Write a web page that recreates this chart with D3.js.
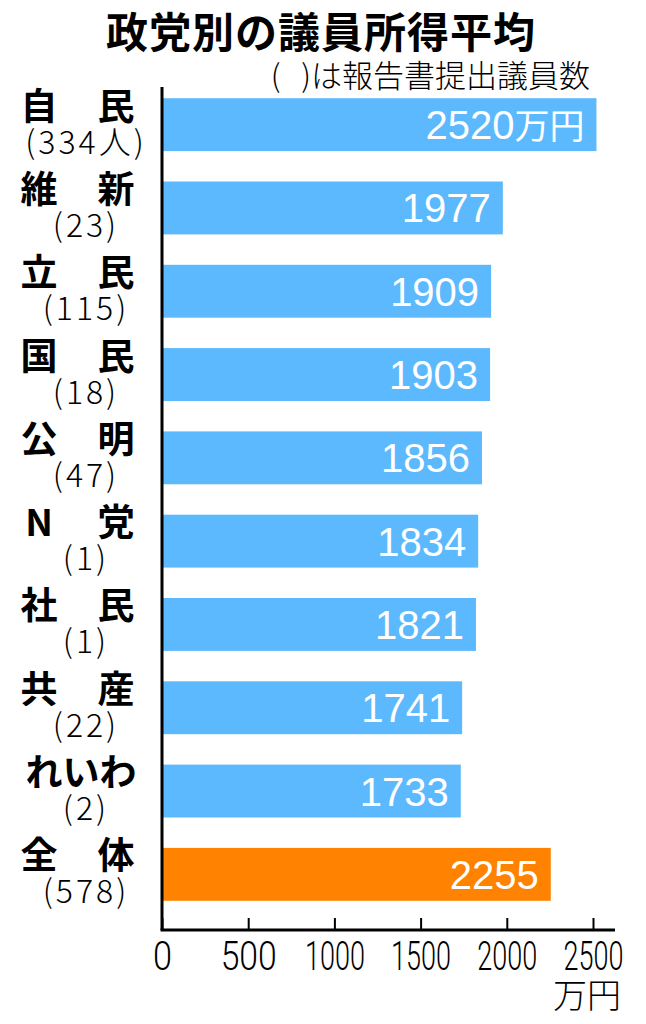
<!DOCTYPE html>
<html>
<head>
<meta charset="utf-8">
<style>
  body { margin: 0; background: #fff; }
  svg { display: block; }
</style>
</head>
<body>
<div id="chart"></div>
<script src="https://d3js.org/d3.v7.min.js"></script>
<script>
// 政党別の議員所得平均（万円）
const parties = ["自民", "維新", "立民", "国民", "公明", "N党", "社民", "共産", "れいわ", "全体"];
const members = ["334人", "23", "115", "18", "47", "1", "1", "22", "2", "578"];
const income = [2520, 1977, 1909, 1903, 1856, 1834, 1821, 1741, 1733, 2255];
const xTicks = [0, 500, 1000, 1500, 2000, 2500];

const width = 646, height = 1024;
const jpFont = "'Noto Sans CJK JP', 'Noto Sans', sans-serif";

const svg = d3.select("#chart").append("svg")
    .attr("width", width)
    .attr("height", height);

const x = d3.scaleLinear().domain([0, 2500]).range([162, 593]);
const y = d3.scaleBand().domain(parties).range([83, 916])
    .paddingInner(0.365).paddingOuter(0.1825);

// タイトル
svg.append("text")
    .attr("x", 321).attr("y", 48)
    .attr("text-anchor", "middle")
    .style("font-family", jpFont)
    .style("font-weight", 700)
    .style("font-size", "42px")
    .style("letter-spacing", "1px")
    .text("政党別の議員所得平均");

svg.append("text")
    .attr("x", 590).attr("y", 87)
    .attr("text-anchor", "end")
    .style("font-family", jpFont)
    .style("font-weight", 300)
    .style("font-size", "31px")
    .text("(\u2002\u2006)は報告書提出議員数");

// 棒
svg.append("g")
    .selectAll("rect")
    .data(parties)
    .join("rect")
    .attr("x", x(0))
    .attr("y", d => y(d))
    .attr("width", (d, i) => x(income[i]) - x(0))
    .attr("height", y.bandwidth())
    .attr("fill", (d, i) => i === parties.length - 1 ? "#ff8200" : "#5db9fd");

// 棒の中の数値
const vals = svg.append("g")
    .selectAll("text")
    .data(parties)
    .join("text")
    .attr("x", (d, i) => x(income[i]) - 12)
    .attr("y", d => y(d) + y.bandwidth() / 2 + 14.5)
    .attr("text-anchor", "end")
    .attr("fill", "#fff")
    .style("font-family", "'Liberation Sans', Arial, " + jpFont)
    .style("font-size", "40px")
    .text((d, i) => income[i]);

vals.filter((d, i) => i === 0)
    .append("tspan")
    .style("font-family", jpFont)
    .style("font-size", "35px")
    .text("万円");

// 政党名
const names = svg.append("g")
    .selectAll("text")
    .data(parties)
    .join("text")
    .attr("y", d => y(d) + y.bandwidth() / 2 - 19 + 14)
    .attr("text-anchor", "middle")
    .style("font-family", jpFont)
    .style("font-weight", 700)
    .style("font-size", "37px");

names.each(function(d) {
    const t = d3.select(this);
    if (d.length === 2) {
        t.append("tspan").attr("x", 39).text(d[0]);
        t.append("tspan").attr("x", 116).text(d[1]);
    } else {
        t.attr("x", 81).text(d);
    }
});

// 議員数
svg.append("g")
    .selectAll("text")
    .data(parties)
    .join("text")
    .attr("x", 86)
    .attr("y", d => y(d) + y.bandwidth() / 2 + 19 + 10)
    .attr("text-anchor", "middle")
    .style("font-family", jpFont)
    .style("font-weight", 300)
    .style("font-size", "32px")
    .style("letter-spacing", "3px")
    .text((d, i) => "(" + members[i] + ")");

// 軸
const axisY = 930;
const axis = svg.append("g")
    .attr("transform", `translate(0,${axisY})`)
    .call(d3.axisBottom(x).tickValues(xTicks).tickFormat(d3.format("d"))
        .tickSize(-12).tickSizeOuter(0).tickPadding(12));

axis.select(".domain").remove();
axis.selectAll(".tick line")
    .attr("stroke", "#000")
    .attr("stroke-width", 2);
axis.selectAll(".tick text")
    .attr("fill", "#000")
    .style("font-family", "Roboto, 'Liberation Sans', Arial, sans-serif")
    .style("font-weight", 300)
    .style("font-size", "40px")
    .attr("lengthAdjust", "spacingAndGlyphs")
    .attr("textLength", d => d === 0 ? 19 : (d < 1000 ? 56 : 60));

svg.append("line")
    .attr("x1", x(0) - 1.5).attr("x2", x(2500) + 22)
    .attr("y1", axisY).attr("y2", axisY)
    .attr("stroke", "#000").attr("stroke-width", 3);

svg.append("line")
    .attr("x1", x(0)).attr("x2", x(0))
    .attr("y1", 87).attr("y2", axisY)
    .attr("stroke", "#000").attr("stroke-width", 3);

svg.append("text")
    .attr("x", 621).attr("y", 1008)
    .attr("text-anchor", "end")
    .style("font-family", jpFont)
    .style("font-weight", 300)
    .style("font-size", "34px")
    .text("万円");
</script>
</body>
</html>
